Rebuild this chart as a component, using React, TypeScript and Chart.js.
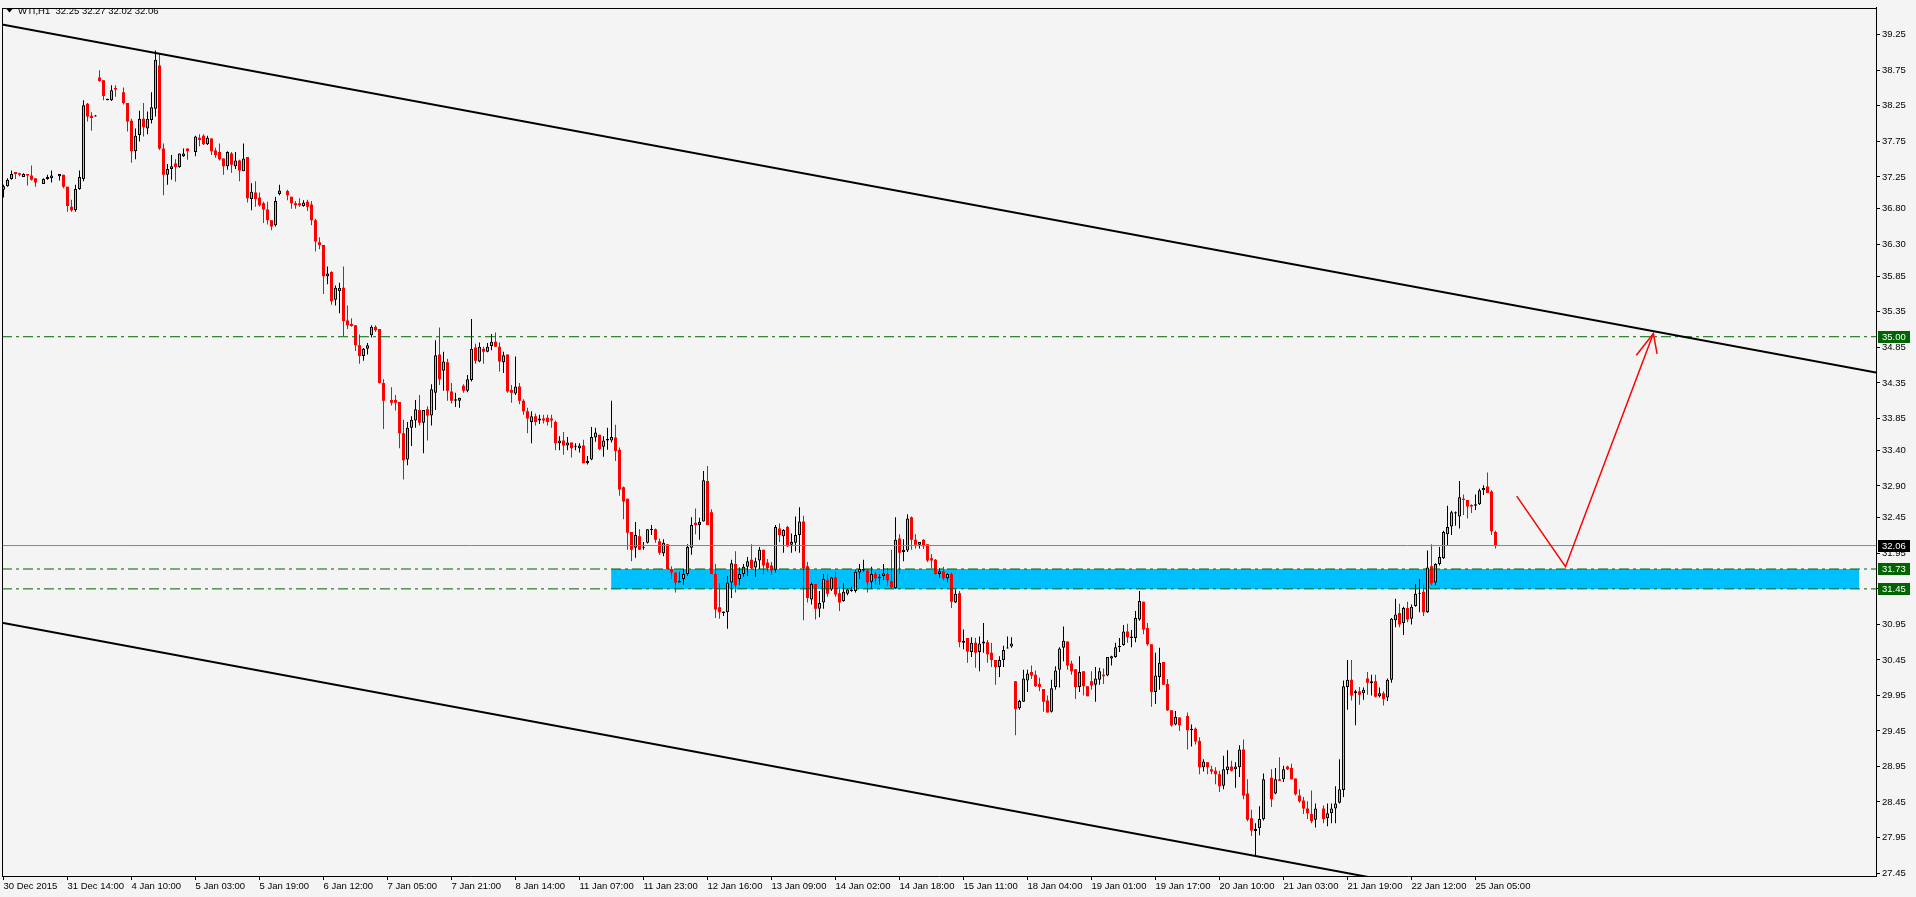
import { useEffect, useRef } from "react";
import { Chart, registerables } from "chart.js";
Chart.register(...registerables);

const W = 1916;
const H = 897;
const FONT = "'Liberation Sans', Arial, sans-serif";
const BG = "#F4F4F4";

// WTI, H1 candles (bar index = position from the left; null = no candle drawn)
const openP = [
  37.07,37.12,37.22,37.32,37.30,37.25,37.29,37.27,37.23,null,
  37.15,37.22,37.23,null,37.26,37.28,37.11,36.83,36.78,37.08,
  37.22,38.28,38.11,38.10,38.65,38.61,38.33,38.33,38.50,null,
  38.44,38.29,38.04,37.61,37.84,38.07,37.93,38.05,38.21,38.82,
  37.65,37.28,37.36,37.44,37.39,37.54,37.65,null,37.60,37.80,
  37.83,37.71,37.79,37.62,37.60,37.51,37.40,37.58,37.40,37.48,
  37.33,37.53,36.94,37.03,36.96,36.88,36.79,36.64,36.57,37.01,
  null,37.05,36.97,36.88,36.88,36.84,36.90,36.86,36.64,36.33,
  36.29,35.85,35.91,35.52,35.64,35.69,35.23,35.18,35.16,34.88,
  34.73,34.83,35.02,35.14,35.11,34.35,null,34.11,34.11,34.08,
  33.64,33.27,33.72,33.82,33.97,33.79,33.98,33.89,34.21,34.75,
  34.52,34.64,34.23,34.10,34.10,34.31,34.24,34.39,34.85,34.65,
  34.83,34.79,34.87,34.93,34.86,34.64,34.75,34.25,34.20,34.30,
  34.10,33.95,33.80,33.88,33.82,33.85,33.86,33.85,33.80,33.50,
  33.54,33.47,33.51,33.45,33.43,33.47,33.22,33.27,33.58,33.62,
  33.45,33.54,33.54,33.58,33.41,32.88,32.72,32.25,32.03,32.19,
  32.03,32.10,32.28,32.29,32.12,31.95,32.08,31.73,31.68,31.54,
  31.59,31.66,32.03,32.38,32.35,32.40,32.97,32.53,31.66,31.19,
  31.11,31.12,31.54,31.80,31.59,31.66,31.76,31.86,31.75,31.85,
  32.00,31.82,31.78,31.72,32.30,32.19,32.32,32.07,32.10,32.21,
  32.40,31.77,31.30,31.52,31.17,31.26,31.57,31.44,31.61,31.39,
  31.28,31.38,31.42,31.42,31.68,31.71,31.71,31.55,31.66,31.60,
  31.63,31.66,31.56,31.46,32.16,31.97,31.99,32.46,32.14,32.07,
  32.14,32.08,31.88,31.86,31.66,31.70,31.60,31.66,31.26,31.39,
  30.69,30.76,30.56,30.69,30.56,30.68,30.70,30.55,30.45,30.35,
  30.45,30.61,30.64,30.15,29.77,29.86,30.16,30.28,30.24,30.11,
  30.04,29.88,29.72,30.07,30.31,30.62,30.71,30.40,30.32,30.07,
  30.29,30.08,30.15,30.10,30.17,30.24,30.23,30.47,30.49,30.63,
  30.66,30.85,30.76,30.76,31.02,31.27,30.90,30.67,30.00,30.21,
  30.42,30.11,29.74,29.54,29.64,null,29.66,29.46,29.48,29.31,
  28.94,29.01,28.91,28.89,28.84,28.68,28.90,28.95,28.91,28.94,
  29.19,28.57,28.22,28.04,28.08,28.21,null,28.79,28.57,28.77,
  28.77,28.95,28.93,28.78,28.54,28.47,28.36,28.28,28.20,null,
  28.36,28.22,28.29,28.36,28.44,28.62,30.07,30.17,29.98,30.01,
  29.98,30.19,30.12,30.15,29.94,29.98,29.92,30.17,31.01,31.11,
  30.97,31.18,31.03,31.21,31.38,31.41,31.12,31.77,31.54,31.80,
  31.88,32.22,32.33,32.51,32.47,32.72,32.70,32.63,32.62,32.64,
  32.84,32.89,32.82,32.25,
];
const highP = [
  37.14,37.23,37.34,37.32,37.31,37.30,37.29,37.41,37.23,null,
  37.23,37.28,37.34,null,37.29,37.28,37.11,36.93,37.14,37.34,
  38.33,38.29,38.16,38.12,38.75,38.61,38.35,38.54,38.54,null,
  38.51,38.29,38.07,37.93,38.18,38.29,38.17,38.44,39.03,38.98,
  37.72,37.43,37.56,37.50,37.58,37.65,37.65,null,37.83,37.85,
  37.85,37.83,37.79,37.66,37.72,37.51,37.61,37.60,37.60,37.49,
  37.72,37.53,37.16,37.19,37.03,36.90,36.90,36.64,36.97,37.14,
  null,37.07,36.97,36.91,36.95,36.92,36.93,36.91,36.66,36.40,
  36.29,35.99,35.92,35.72,35.76,35.99,35.44,35.26,35.16,35.03,
  34.84,34.91,35.16,35.16,35.11,34.40,null,34.29,34.18,34.08,
  33.83,33.80,33.88,34.11,34.18,33.97,34.02,34.33,34.95,35.13,
  34.79,34.69,34.35,34.21,34.14,34.33,34.46,35.25,34.90,34.92,
  34.86,34.91,35.04,35.06,34.92,34.79,34.75,34.32,34.72,34.35,
  34.12,34.00,33.95,33.92,33.90,33.90,33.90,33.90,33.82,33.60,
  33.66,33.59,33.51,33.50,33.50,33.55,33.32,33.73,33.72,33.62,
  33.60,33.72,34.10,33.76,33.44,32.89,32.72,32.25,32.39,32.29,
  32.11,32.29,32.35,32.30,32.16,32.15,32.08,31.77,31.68,31.69,
  31.73,32.08,32.46,32.58,32.45,33.11,33.18,32.57,31.80,31.53,
  31.13,31.63,31.86,31.98,31.75,31.80,31.90,32.08,31.89,32.04,
  32.00,31.87,31.83,32.35,32.37,32.29,32.34,32.23,32.47,32.60,
  32.48,31.83,31.54,31.52,31.42,31.66,31.66,31.62,31.69,31.48,
  31.53,31.46,31.48,31.72,31.80,31.86,31.73,31.76,31.69,31.66,
  31.80,31.74,32.00,32.46,32.22,32.15,32.50,32.47,32.22,32.11,
  32.15,32.08,31.94,31.87,31.74,31.76,31.67,31.68,31.44,31.42,
  30.88,30.76,30.77,30.76,30.78,30.97,30.73,30.69,30.45,30.50,
  30.65,30.78,30.77,30.15,29.89,30.31,30.31,30.37,30.30,30.20,
  30.04,29.95,30.17,30.36,30.63,30.92,30.71,30.44,30.32,30.50,
  30.29,30.08,30.29,30.35,30.34,30.33,30.49,30.51,30.69,30.76,
  30.94,30.96,30.87,31.14,31.42,31.27,30.97,30.67,30.55,30.62,
  30.42,30.18,29.74,29.73,29.64,null,29.71,29.54,29.50,29.36,
  29.05,29.01,28.96,28.94,28.89,29.10,29.18,29.03,29.01,29.25,
  29.33,28.77,28.34,28.15,28.39,28.85,null,28.91,28.93,29.08,
  28.96,28.96,28.99,28.78,28.63,28.52,28.46,28.61,28.43,null,
  28.40,28.43,28.43,28.67,29.05,30.16,30.45,30.45,30.03,30.07,
  30.06,30.28,30.24,30.24,30.06,30.01,30.19,31.04,31.31,31.24,
  31.20,31.27,31.23,31.52,31.59,31.51,31.99,32.08,31.81,32.04,
  32.27,32.62,32.55,32.54,32.97,32.78,32.70,32.64,32.78,32.86,
  32.91,33.09,32.84,32.27,
];
const lowP = [
  36.96,37.11,37.21,37.22,37.26,37.25,37.13,37.20,37.11,null,
  37.15,37.21,37.17,null,37.20,37.09,36.76,36.76,36.76,37.07,
  37.19,38.03,37.90,38.10,38.59,38.33,38.33,38.32,38.38,null,
  38.27,37.89,37.45,37.50,37.75,37.82,37.85,38.00,38.10,37.63,
  36.99,37.14,37.21,37.18,37.38,37.53,37.49,null,37.54,37.68,
  37.70,37.70,37.56,37.52,37.48,37.28,37.35,37.31,37.36,37.19,
  37.33,36.89,36.78,36.83,36.83,36.60,36.58,36.50,36.55,36.99,
  null,36.92,36.80,36.80,36.83,36.83,36.77,36.57,36.20,36.23,
  35.60,35.74,35.45,35.44,35.33,35.01,35.11,35.14,34.80,34.62,
  34.66,34.75,34.99,35.07,34.34,33.70,null,34.03,33.96,33.43,
  32.99,33.19,33.46,33.72,33.75,33.36,33.54,33.75,33.97,34.32,
  34.24,34.10,34.06,34.01,34.00,34.21,34.22,34.37,34.62,34.64,
  34.62,34.78,34.81,34.86,34.51,34.49,34.21,34.07,34.18,34.05,
  33.90,33.64,33.50,33.75,33.77,33.78,33.75,33.72,33.40,33.40,
  33.34,33.40,33.30,33.40,33.37,33.22,33.20,33.26,33.52,33.40,
  33.31,33.41,33.51,33.25,32.76,32.43,32.00,31.84,31.89,32.00,
  32.00,32.09,32.21,32.10,31.93,31.91,31.73,31.59,31.40,31.54,
  31.51,31.63,31.93,32.22,32.14,32.40,32.35,31.66,31.04,31.03,
  31.07,30.89,31.32,31.40,31.50,31.62,31.63,31.73,31.62,31.73,
  31.66,31.69,31.65,31.68,32.11,31.96,32.04,31.96,31.98,31.96,
  31.01,31.26,31.23,31.02,31.05,31.17,31.34,31.42,31.34,31.14,
  31.27,31.36,31.41,31.40,31.59,31.69,31.40,31.45,31.51,31.51,
  31.57,31.49,31.45,31.45,31.66,31.84,31.97,32.00,32.02,32.02,
  32.01,31.83,31.74,31.65,31.60,31.57,31.54,31.18,31.25,30.63,
  30.60,30.41,30.49,30.34,30.29,30.55,30.41,30.35,30.10,30.21,
  30.35,30.61,30.62,29.39,29.75,29.86,30.00,30.18,30.07,30.01,
  29.72,29.71,29.71,30.03,30.06,30.43,30.31,30.24,29.90,30.00,
  29.95,29.94,30.03,29.86,30.10,30.11,30.22,30.37,30.48,30.56,
  30.65,30.69,30.63,30.70,31.00,30.81,30.65,29.79,29.83,30.03,
  30.10,29.73,29.51,29.53,29.45,null,29.19,29.23,29.26,28.84,
  28.88,28.84,28.84,28.70,28.59,28.63,28.84,28.88,28.65,28.80,
  28.49,28.18,27.97,27.69,27.98,28.19,null,28.38,28.56,28.75,
  28.73,28.90,28.77,28.54,28.44,28.28,28.21,28.15,28.09,null,
  28.15,28.11,28.15,28.15,28.43,28.52,29.75,29.88,29.53,29.82,
  29.89,29.96,29.95,29.92,29.92,29.81,29.87,30.13,30.91,30.91,
  30.80,30.98,30.95,31.20,31.12,31.07,31.11,31.50,31.50,31.78,
  31.87,32.06,32.21,32.34,32.30,32.49,32.44,32.52,32.56,32.63,
  32.77,32.80,32.21,32.02,
];
const closeP = [
  37.12,37.21,37.29,37.29,37.28,37.29,37.27,37.21,37.17,null,
  37.22,37.25,37.27,null,37.29,37.11,36.84,36.78,37.08,37.25,
  38.26,38.10,38.08,38.11,38.60,38.39,38.35,38.47,38.48,null,
  38.29,38.03,37.61,37.83,38.07,37.95,38.07,38.23,38.90,37.65,
  37.28,37.36,37.40,37.39,37.58,37.58,37.61,null,37.82,37.77,
  37.71,37.80,37.61,37.56,37.50,37.40,37.60,37.42,37.48,37.34,
  37.51,36.95,37.04,36.94,36.85,36.79,36.64,36.55,36.91,37.06,
  null,36.99,36.88,36.85,36.85,36.89,36.83,36.64,36.34,36.29,
  35.85,35.89,35.50,35.69,35.69,35.22,35.16,35.15,34.88,34.73,
  34.83,34.88,35.14,35.09,34.35,34.10,null,34.07,34.07,33.64,
  33.26,33.72,33.83,33.98,33.79,33.97,33.89,34.26,34.74,34.40,
  34.65,34.24,34.10,34.12,34.14,34.24,34.40,34.83,34.66,34.86,
  34.79,34.86,34.93,34.86,34.65,34.74,34.23,34.21,34.30,34.10,
  33.95,33.85,33.88,33.80,33.85,33.82,33.80,33.82,33.50,33.54,
  33.47,33.51,33.43,33.46,33.47,33.22,33.25,33.59,33.65,33.42,
  33.54,33.56,33.59,33.39,32.85,32.68,32.24,32.00,32.21,32.00,
  32.04,32.29,32.29,32.14,31.96,32.10,31.73,31.68,31.54,31.56,
  31.66,32.04,32.35,32.35,32.39,32.98,32.35,31.66,31.16,31.12,
  31.13,31.54,31.81,31.50,31.66,31.76,31.84,31.74,31.84,32.00,
  31.78,31.74,31.71,32.32,32.21,32.28,32.05,32.11,32.21,32.40,
  31.74,31.32,31.52,31.17,31.25,31.59,31.38,31.61,31.37,31.26,
  31.41,31.44,31.44,31.69,31.73,31.73,31.54,31.66,31.60,31.62,
  31.67,31.57,31.47,32.14,31.96,32.00,32.44,32.14,32.07,32.11,
  32.05,31.85,31.85,31.66,31.70,31.60,31.66,31.27,31.38,30.70,
  30.72,30.57,30.69,30.55,30.68,30.71,30.53,30.45,30.35,30.45,
  30.59,30.62,30.68,29.76,29.87,30.19,30.26,30.23,30.08,30.07,
  29.86,29.71,30.05,30.30,30.61,30.72,30.37,30.29,30.07,30.28,
  30.08,29.94,30.09,30.19,30.29,30.22,30.49,30.50,30.63,30.65,
  30.85,30.77,30.78,31.04,31.28,30.88,30.67,30.00,30.23,30.41,
  30.10,29.74,29.53,29.65,29.53,null,29.46,29.48,29.30,28.94,
  29.02,28.94,28.88,28.84,28.67,28.91,28.95,28.89,28.95,29.19,
  28.54,28.20,28.05,28.07,28.21,28.77,null,28.49,28.77,28.75,
  28.91,28.91,28.77,28.56,28.46,28.36,28.29,28.18,28.36,null,
  28.21,28.29,28.36,28.43,28.63,30.08,30.17,29.95,30.01,29.96,
  30.03,30.13,30.15,29.93,29.98,29.90,30.17,31.03,31.09,30.95,
  31.18,31.02,31.20,31.38,31.39,31.12,31.75,31.53,31.80,31.90,
  32.25,32.32,32.53,32.53,32.74,32.70,32.61,32.61,32.64,32.84,
  32.87,32.80,32.26,32.06,
];

// axes
const xMin = -0.375;
const xMax = 468.125;
const yMin = 27.408;
const yMax = 39.632;
const xTickBars = [0,16,32,48,64,80,96,112,128,144,160,176,192,208,224,240,256,272,288,304,320,336,352,368];
const xTickLabels = [
  "30 Dec 2015","31 Dec 14:00","4 Jan 10:00","5 Jan 03:00","5 Jan 19:00","6 Jan 12:00",
  "7 Jan 05:00","7 Jan 21:00","8 Jan 14:00","11 Jan 07:00","11 Jan 23:00","12 Jan 16:00",
  "13 Jan 09:00","14 Jan 02:00","14 Jan 18:00","15 Jan 11:00","18 Jan 04:00","19 Jan 01:00",
  "19 Jan 17:00","20 Jan 10:00","21 Jan 03:00","21 Jan 19:00","22 Jan 12:00","25 Jan 05:00",
];
const yTickValues = [27.45,27.95,28.45,28.95,29.45,29.95,30.45,30.95,31.45,31.95,32.45,32.90,33.40,33.85,34.35,34.85,35.35,35.85,36.30,36.80,37.25,37.75,38.25,38.75,39.25];
const yTickLabels = ["27.45","27.95","28.45","28.95","29.45","29.95","30.45","30.95","31.45","31.95","32.45","32.90","33.40","33.85","34.35","34.85","35.35","35.85","36.30","36.80","37.25","37.75","38.25","38.75","39.25"];

// drawn objects
const upperChannel = [{ x: -0.375, y: 39.397 }, { x: 468.125, y: 34.495 }];
const lowerChannel = [{ x: -0.375, y: 30.973 }, { x: 468.125, y: 26.064 }];
const resistanceLevel = 35.0;
const zoneTop = 31.73;
const zoneBottom = 31.45;
const zoneStartBar = 151.9;
const zoneEndBar = 463.9;
const bidPrice = 32.06;
const arrowPath = [
  { x: 378.3, y: 32.755 },
  { x: 390.5, y: 31.763 },
  { x: 412.47, y: 35.045 },
];
const arrowHead = [
  { x: 408.2, y: 34.74 },
  { x: 412.47, y: 35.045 },
  { x: 413.4, y: 34.76 },
];
const titleText = "WTI,H1  32.25 32.27 32.02 32.06";

const BULL = "#7CFC00";
const BEAR = "#FF0000";
const LEVEL = "#006400";

export default function App() {
  const ref = useRef<HTMLCanvasElement | null>(null);

  useEffect(() => {
    const canvas = ref.current;
    if (!canvas) return;
    const idx: number[] = [];
    openP.forEach((o, i) => {
      if (o !== null) idx.push(i);
    });
    const isBull = (i: number) => (closeP[i] as number) >= (openP[i] as number);
    const wickData = idx.map((i) => ({ x: i, y: [lowP[i], highP[i]] }));
    const bodyData = idx.map((i) => ({ x: i, y: [openP[i], closeP[i]] }));
    const wickColors = idx.map((i) => (isBull(i) ? "#000000" : BEAR));
    const bodyColors = idx.map((i) => (isBull(i) ? BULL : BEAR));
    const bodyBorders = idx.map((i) => (isBull(i) ? "#000000" : BEAR));
    const bodyBorderW = idx.map((i) => (isBull(i) ? 1 : 0));
    const hline = (v: number) => [{ x: xMin, y: v }, { x: xMax, y: v }];
    const dash = [10, 4, 3, 4];

    const bgPlugin = {
      id: "bg",
      beforeDraw(chart: any) {
        const c = chart.ctx;
        c.save();
        c.fillStyle = BG;
        c.fillRect(0, 0, chart.width, chart.height);
        c.restore();
      },
    };
    const overlayPlugin = {
      id: "overlay",
      afterDraw(chart: any) {
        const c = chart.ctx;
        const a = chart.chartArea;
        const ys = chart.scales.y;
        c.save();
        // frame (top and left edges)
        c.fillStyle = "#000";
        c.fillRect(Math.round(a.left), Math.round(a.top), Math.round(a.right - a.left), 1);
        c.fillRect(Math.round(a.left), Math.round(a.top), 1, Math.round(a.bottom - a.top));
        // price tags
        const tags = [
          { v: resistanceLevel, bg: LEVEL },
          { v: zoneTop, bg: LEVEL },
          { v: zoneBottom, bg: LEVEL },
          { v: bidPrice, bg: "#000000" },
        ];
        c.font = `9.5px ${FONT}`;
        c.textBaseline = "middle";
        c.textAlign = "left";
        tags.forEach((t) => {
          const py = ys.getPixelForValue(t.v);
          c.fillStyle = t.bg;
          c.fillRect(a.right + 2, Math.round(py - 6), 32, 12);
          c.fillStyle = "#FFFFFF";
          c.fillText(t.v.toFixed(2), a.right + 6, py + 0.5);
        });
        // title
        c.fillStyle = "#000";
        c.beginPath();
        c.moveTo(6.5, 9);
        c.lineTo(12.5, 9);
        c.lineTo(9.5, 12.5);
        c.closePath();
        c.fill();
        c.font = `9.5px ${FONT}`;
        c.fillText(titleText, 18, 11);
        c.restore();
      },
    };

    const chart = new Chart(canvas, {
      type: "bar",
      data: {
        datasets: [
          {
            type: "line",
            data: [{ x: zoneStartBar, y: zoneTop }, { x: zoneEndBar, y: zoneTop }],
            borderWidth: 0,
            borderColor: "rgba(0,0,0,0)",
            backgroundColor: "#00BFFF",
            fill: { value: zoneBottom },
            pointRadius: 0,
            order: 20,
          } as any,
          {
            type: "bar",
            data: wickData as any,
            backgroundColor: wickColors,
            borderWidth: 0,
            barThickness: 1,
            grouped: false,
            inflateAmount: 0,
            order: 10,
          } as any,
          {
            type: "bar",
            data: bodyData as any,
            backgroundColor: bodyColors,
            borderColor: bodyBorders,
            borderWidth: bodyBorderW,
            borderSkipped: false,
            barThickness: 3,
            minBarLength: 1,
            grouped: false,
            inflateAmount: 0,
            order: 9,
          } as any,
          {
            type: "line",
            data: hline(bidPrice),
            borderColor: "#778899",
            borderWidth: 1,
            pointRadius: 0,
            order: 5,
          } as any,
          {
            type: "line",
            data: hline(resistanceLevel),
            borderColor: LEVEL,
            borderWidth: 1,
            borderDash: dash,
            pointRadius: 0,
            order: 4,
          } as any,
          {
            type: "line",
            data: hline(zoneTop),
            borderColor: LEVEL,
            borderWidth: 1,
            borderDash: dash,
            pointRadius: 0,
            order: 4,
          } as any,
          {
            type: "line",
            data: hline(zoneBottom),
            borderColor: LEVEL,
            borderWidth: 1,
            borderDash: dash,
            pointRadius: 0,
            order: 4,
          } as any,
          {
            type: "line",
            data: upperChannel,
            borderColor: "#000000",
            borderWidth: 2,
            pointRadius: 0,
            order: 3,
          } as any,
          {
            type: "line",
            data: lowerChannel,
            borderColor: "#000000",
            borderWidth: 2,
            pointRadius: 0,
            order: 3,
          } as any,
          {
            type: "line",
            data: arrowPath,
            borderColor: "#FF0000",
            borderWidth: 1.5,
            pointRadius: 0,
            order: 2,
          } as any,
          {
            type: "line",
            data: arrowHead,
            borderColor: "#FF0000",
            borderWidth: 1.5,
            pointRadius: 0,
            order: 2,
          } as any,
        ],
      },
      options: {
        responsive: false,
        animation: false,
        devicePixelRatio: 1,
        events: [],
        layout: { padding: { left: 2, top: 2, right: 0, bottom: 0 }, autoPadding: false },
        plugins: { legend: { display: false }, tooltip: { enabled: false } },
        scales: {
          x: {
            type: "linear",
            min: xMin,
            max: xMax,
            offset: false,
            afterBuildTicks: (s: any) => {
              s.ticks = xTickBars.map((v) => ({ value: v }));
            },
            afterFit: (s: any) => {
              s.height = 21;
            },
            ticks: {
              autoSkip: false,
              maxRotation: 0,
              minRotation: 0,
              align: "start",
              padding: 1,
              color: "#000",
              font: { family: FONT, size: 9.5 },
              callback: (_v: any, i: number) => xTickLabels[i],
            },
            grid: { drawOnChartArea: false, drawTicks: true, tickLength: 4, color: "#000", offset: false },
            border: { display: true, color: "#000", width: 1 },
          },
          y: {
            type: "linear",
            position: "right",
            min: yMin,
            max: yMax,
            afterBuildTicks: (s: any) => {
              s.ticks = yTickValues.map((v) => ({ value: v }));
            },
            afterFit: (s: any) => {
              s.width = 40;
            },
            ticks: {
              autoSkip: false,
              padding: 2,
              color: "#000",
              font: { family: FONT, size: 9.5 },
              callback: (_v: any, i: number) => yTickLabels[i],
            },
            grid: { drawOnChartArea: false, drawTicks: true, tickLength: 4, color: "#000" },
            border: { display: true, color: "#000", width: 1 },
          },
        },
      } as any,
      plugins: [bgPlugin, overlayPlugin],
    });
    return () => chart.destroy();
  }, []);

  return (
    <div style={{ position: "fixed", left: 0, top: 0, width: W, height: H, background: BG }}>
      <canvas ref={ref} width={W} height={H} style={{ display: "block", width: W, height: H }} />
    </div>
  );
}
